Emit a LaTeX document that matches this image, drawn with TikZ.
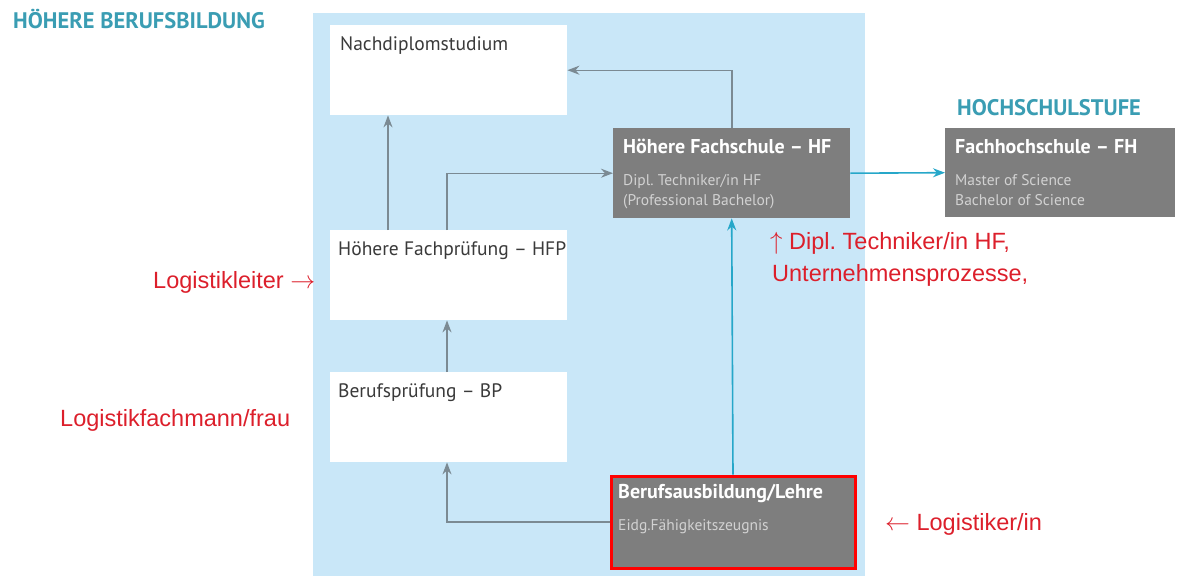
\documentclass[tikz,border=0pt]{standalone}
\usepackage{fontspec}
\setmainfont{PT Sans}
\newfontfamily\redfont{Liberation Sans}
\usetikzlibrary{arrows.meta,calc}
\definecolor{bgblue}{HTML}{C9E7F8}
\definecolor{boxgray}{HTML}{7E7E7E}
\definecolor{arrgray}{HTML}{7B8A93}
\definecolor{arrcyan}{HTML}{26A7C9}
\definecolor{headteal}{HTML}{3A9DB3}
\definecolor{labred}{HTML}{DC1F2B}
\definecolor{darktext}{HTML}{3A3A3A}
\definecolor{subgray}{HTML}{D2D2D2}
\tikzset{
  whitebox/.style={draw=none,fill=white,minimum width=237pt,minimum height=90pt,anchor=north west,inner sep=0pt},
  graybox/.style={draw=none,fill=boxgray,anchor=north west,inner sep=0pt},
  boxtitle/.style={anchor=base west,inner sep=0pt,text=darktext,font=\fontsize{19.5}{22}\selectfont},
  graytitle/.style={anchor=base west,inner sep=0pt,text=white,font=\bfseries\fontsize{20}{22}\selectfont},
  graysub/.style={anchor=base west,inner sep=0pt,text=subgray,font=\fontsize{15.5}{18}\selectfont},
  heading/.style={anchor=base west,inner sep=0pt,text=headteal,font=\bfseries\fontsize{22.5}{24}\selectfont},
  redlabel/.style={anchor=base west,inner sep=0pt,text=labred,font=\redfont\fontsize{23.5}{28}\selectfont},
  garrow/.style={draw=arrgray,line width=1.4pt,-{Stealth[length=12pt,width=9pt]}},
  carrow/.style={draw=arrcyan,line width=1.6pt,-{Stealth[length=12pt,width=9pt]}}
}
\begin{document}
\begin{tikzpicture}[x=1pt,y=-1pt]
\useasboundingbox (0,0) rectangle (1179,576);
\fill[bgblue] (313,13) rectangle (865,576);
% headings
\node[heading] (h1) at (13,28) {HÖHERE BERUFSBILDUNG};
\node[heading] (h2) at (957,115) {HOCHSCHULSTUFE};
% white boxes
\node[whitebox] (nd) at (330,25) {};
\node[whitebox] (hfp) at (330,230) {};
\node[whitebox] (bp) at (330,372) {};
\node[boxtitle] (ndt) at (340,50) {Nachdiplomstudium};
\node[boxtitle] (hfpt) at (338,255) {Höhere Fachprüfung – HFP};
\node[boxtitle] (bpt) at (338,397) {Berufsprüfung – BP};
% gray boxes
\node[graybox,minimum width=237pt,minimum height=90pt] (hf) at (613,128) {};
\node[graybox,minimum width=230pt,minimum height=89pt] (fh) at (945,128) {};
\node[graybox,draw=red,line width=3pt,minimum width=244pt,minimum height=92pt] (ba) at (609.5,474.5) {};
\node[graytitle] (hft) at (623,153) {Höhere Fachschule – HF};
\node[graysub] (hfs1) at (623,185) {Dipl.\ Techniker/in HF};
\node[graysub] (hfs2) at (623,205) {(Professional Bachelor)};
\node[graytitle] (fht) at (955,153) {Fachhochschule – FH};
\node[graysub] (fhs1) at (955,185) {Master of Science};
\node[graysub] (fhs2) at (955,205) {Bachelor of Science};
\node[graytitle] (bat) at (618,498) {Berufsausbildung/Lehre};
\node[graysub] (bas) at (618,530) {Eidg.Fähigkeitszeugnis};
% arrows
\draw[garrow] ($(hf.north west)+(119,0)$) |- (nd.east);
\draw[garrow] ($(hfp.north west)+(58,0)$) -- ($(nd.south west)+(58,0)$);
\draw[garrow] ($(hfp.north west)+(117,0)$) |- (hf.west);
\draw[garrow] ($(bp.north west)+(117,0)$) -- ($(hfp.south west)+(117,0)$);
\draw[garrow] (ba.west) -| ($(bp.south west)+(117,0)$);
\draw[carrow] (ba.north) -- (hf.south);
\draw[carrow] (hf.east) -- (fh.west);
% red labels
\node[redlabel] (l1) at (153,288) {Logistikleiter\ $\rightarrow$};
\node[redlabel] (l2) at (60,426) {Logistikfachmann/frau};
\node[redlabel] (l3) at (885,530) {$\leftarrow$\ Logistiker/in};
\node[redlabel] (l4a) at (770,249) {$\uparrow$\ Dipl.\ Techniker/in HF,};
\node[redlabel] (l4b) at (772,281) {Unternehmensprozesse,};
\end{tikzpicture}
\end{document}
